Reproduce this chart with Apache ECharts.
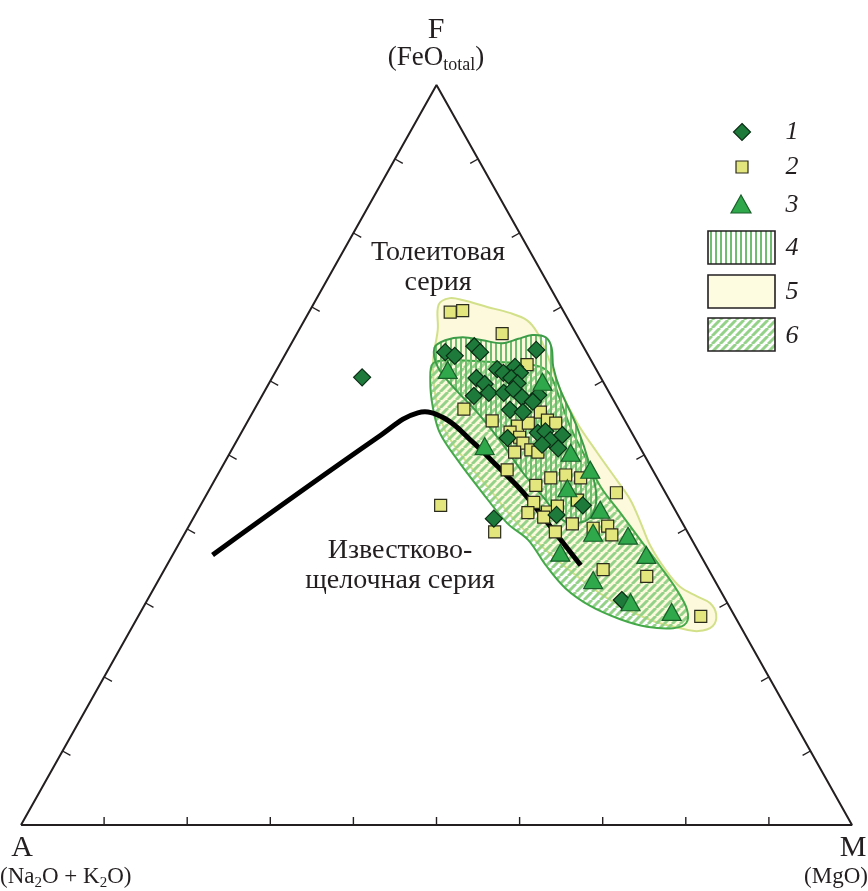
<!DOCTYPE html>
<html>
<head>
<meta charset="utf-8">
<script src="https://cdn.jsdelivr.net/npm/echarts@6/dist/echarts.min.js"></script>
<style>
  html, body { margin: 0; padding: 0; background: #ffffff; }
  #chart { width: 868px; height: 891px; }
</style>
</head>
<body>
<div id="chart"></div>
<script>
// AFM diagram. Every composition is [A, F, M] in %:
// A = Na2O + K2O, F = FeO total, M = MgO.

// 1 — diamonds
const group1 = [
  [28.7, 60.5, 10.8], [17.0, 63.9, 19.1], [16.1, 63.4, 20.5], [13.1, 64.7, 22.2],
  [12.8, 63.9, 23.3], [5.9, 64.2, 29.9], [11.9, 61.6, 26.5], [11.4, 61.1, 27.5],
  [9.6, 61.9, 28.5], [9.4, 61.1, 29.5], [10.8, 60.4, 28.8], [10.4, 59.7, 29.9],
  [15.0, 60.4, 24.6], [14.4, 59.6, 26.0], [16.5, 58.0, 25.5], [14.5, 58.4, 27.1],
  [12.7, 58.4, 28.9], [11.3, 58.9, 29.8], [10.8, 57.8, 31.4], [8.7, 58.1, 33.2],
  [13.1, 56.1, 30.8], [11.7, 55.8, 32.5], [15.3, 52.3, 32.4], [11.3, 53.0, 35.7],
  [10.3, 53.2, 36.5], [10.3, 52.0, 37.7], [8.5, 52.7, 38.8], [11.6, 51.4, 37.0],
  [9.9, 50.9, 39.2], [10.8, 43.2, 46.0], [14.6, 41.9, 43.5], [22.4, 41.4, 36.2],
  [12.5, 30.4, 57.1], [9.8, 57.2, 33.0]
];

// 2 — squares
const group2 = [
  [13.7, 69.3, 17.0], [12.1, 69.5, 18.4], [8.9, 66.4, 24.7], [8.0, 62.2, 29.8],
  [18.6, 56.2, 25.2], [16.0, 54.6, 29.4], [13.3, 53.9, 32.8], [11.8, 54.3, 33.9],
  [9.6, 55.8, 34.6], [9.3, 54.7, 36.0], [8.5, 54.3, 37.2], [14.6, 53.1, 32.3],
  [13.8, 52.4, 33.8], [13.8, 51.6, 34.6], [15.4, 50.4, 34.2], [13.3, 50.7, 36.0],
  [12.6, 50.4, 37.0], [17.5, 48.0, 34.5], [15.1, 45.9, 39.0], [12.8, 46.9, 40.3],
  [10.8, 47.3, 41.9], [9.2, 46.9, 43.9], [5.9, 44.9, 49.2], [16.5, 43.6, 39.9],
  [17.9, 42.2, 39.9], [15.5, 42.3, 42.2], [13.9, 43.1, 43.0], [11.1, 43.9, 45.0],
  [13.3, 40.7, 46.0], [15.9, 39.6, 44.5], [11.1, 40.1, 48.8], [9.2, 40.4, 50.4],
  [9.3, 39.2, 51.5], [23.2, 39.6, 37.2], [27.9, 43.2, 28.9], [12.7, 34.5, 52.8],
  [7.9, 33.6, 58.5], [4.1, 28.2, 67.7], [16.3, 41.6, 42.1]
];

// 3 — triangles
const group3 = [
  [17.9, 61.5, 20.6], [7.3, 59.9, 32.8], [18.6, 51.2, 30.2], [8.7, 50.3, 41.0],
  [7.5, 48.0, 44.5], [11.5, 45.5, 43.0], [9.0, 42.6, 48.4], [11.4, 39.5, 49.1],
  [7.4, 39.1, 53.5], [16.7, 36.8, 46.5], [6.5, 36.5, 57.0], [14.6, 33.1, 52.3],
  [11.6, 30.1, 58.3], [7.3, 28.8, 63.9]
];

// Tholeiitic / calc-alkaline dividing line
const seriesBoundary = [
  [58.7, 36.5, 4.8], [30.5, 52.6, 16.9], [24.4, 55.7, 19.9], [21.6, 55.0, 23.4],
  [19.7, 51.6, 28.7], [18.4, 48.4, 33.2], [17.1, 44.9, 38.0], [15.7, 38.1, 46.2],
  [15.1, 35.1, 49.8]
];

// 4 — field, vertical hatch
const field4 = [
  [18.0, 64.5, 17.5], [16.2, 65.5, 18.3], [13.9, 65.9, 20.2], [11.7, 65.5, 22.8],
  [9.5, 65.1, 25.4], [7.3, 65.7, 27.0], [5.4, 66.2, 28.4], [3.9, 65.9, 30.2],
  [3.9, 64.5, 31.6], [5.0, 61.9, 33.1], [5.7, 58.8, 35.5], [6.2, 53.8, 40.0],
  [7.3, 48.4, 44.3], [8.6, 44.3, 47.1], [10.7, 41.6, 47.7], [12.7, 40.8, 46.5],
  [14.2, 41.2, 44.6], [15.0, 44.3, 40.7], [15.8, 47.6, 36.6], [16.4, 52.0, 31.6],
  [17.2, 55.7, 27.1], [18.4, 59.2, 22.4], [18.9, 61.9, 19.2]
];

// 5 — field, plain fill
const field5 = [
  [16.4, 66.9, 16.7], [14.6, 70.3, 15.1], [12.8, 71.2, 16.0], [11.3, 70.9, 17.8],
  [8.9, 70.0, 21.1], [6.6, 69.2, 24.2], [5.0, 68.2, 26.8], [4.6, 66.6, 28.8],
  [4.8, 64.2, 31.0], [5.7, 58.8, 35.5], [5.9, 54.3, 39.8], [5.5, 50.3, 44.2],
  [5.0, 46.6, 48.4], [4.7, 43.9, 51.4], [5.0, 40.9, 54.1], [5.4, 37.8, 56.8],
  [5.2, 34.5, 60.3], [4.6, 32.2, 63.2], [3.2, 30.9, 65.9], [2.1, 30.0, 67.9],
  [2.1, 28.5, 69.4], [3.3, 26.9, 69.8], [5.4, 26.2, 68.4], [7.4, 26.6, 66.0],
  [10.4, 27.7, 61.9], [13.9, 30.4, 55.7], [16.4, 33.8, 49.8], [18.3, 37.2, 44.5],
  [20.0, 41.2, 38.8], [20.9, 45.3, 33.8], [21.9, 49.3, 28.8], [22.3, 53.4, 24.3],
  [21.1, 58.1, 20.8], [19.0, 62.8, 18.2]
];

// 6 — field, diagonal hatch
const field6 = [
  [20.7, 60.1, 19.2], [19.2, 62.4, 18.4], [16.6, 62.8, 20.6], [12.6, 62.6, 24.8],
  [8.8, 62.4, 28.8], [6.5, 61.9, 31.6], [5.9, 60.8, 33.3], [6.4, 57.4, 36.2],
  [7.0, 53.8, 39.2], [7.2, 50.3, 42.5], [7.4, 45.7, 46.9], [6.8, 42.2, 51.0],
  [6.2, 38.5, 55.3], [5.6, 34.9, 59.5], [5.2, 31.8, 63.0], [5.3, 29.1, 65.6],
  [6.3, 27.3, 66.4], [8.2, 26.6, 65.2], [11.3, 26.8, 61.9], [14.0, 27.8, 58.2],
  [16.7, 29.6, 53.7], [18.5, 32.0, 49.5], [19.3, 35.1, 45.6], [19.7, 38.5, 41.8],
  [21.1, 40.8, 38.1], [22.1, 45.3, 32.6], [22.8, 49.3, 27.9], [23.1, 53.0, 23.9],
  [22.2, 56.5, 21.3]
];

const tickValues = [10, 20, 30, 40, 50, 60, 70, 80, 90];
const legendLabels = ['1', '2', '3', '4', '5', '6'];

const SERIF = "'Liberation Serif', 'Times New Roman', 'DejaVu Serif', serif";
const INK = '#231f20';

// ternary [A, F, M] -> plane coordinates (x along A–M, y towards F)
function toXY(p) {
  const s = p[0] + p[1] + p[2];
  const f = p[1] / s * 100, m = p[2] / s * 100;
  return [m + f / 2, f];
}

// hatch fills
function diagonalHatch() {
  const s = 8, c = document.createElement('canvas');
  c.width = s; c.height = s;
  const g = c.getContext('2d');
  g.strokeStyle = '#93d288';
  g.lineWidth = 3;
  g.beginPath();
  for (let k = -1; k <= 1; k++) { g.moveTo(k * s, s); g.lineTo(k * s + s, 0); }
  g.stroke();
  return { image: c, repeat: 'repeat' };
}
function verticalHatch() {
  const c = document.createElement('canvas');
  c.width = 5; c.height = 5;
  const g = c.getContext('2d');
  g.fillStyle = '#6fbd6e';
  g.fillRect(0, 0, 2, 5);
  return { image: c, repeat: 'repeat' };
}
const hatch6 = diagonalHatch();
const hatch4 = verticalHatch();

function fieldSeries(name, points, fill, stroke, z) {
  const xy = points.map(toXY);
  return {
    name, type: 'custom', coordinateSystem: 'cartesian2d', data: xy, z, silent: true,
    renderItem(params, api) {
      if (params.dataIndex !== 0) return null;
      return {
        type: 'polygon',
        shape: { points: xy.map(p => api.coord(p)), smooth: 0.35 },
        style: { fill, stroke, lineWidth: 2 }
      };
    }
  };
}

// inward-pointing tick from a point on an edge
function tickLine(p, e0, e1, c, len) {
  const dx = e1[0] - e0[0], dy = e1[1] - e0[1];
  const L = Math.hypot(dx, dy);
  let nx = -dy / L, ny = dx / L;
  if ((c[0] - p[0]) * nx + (c[1] - p[1]) * ny < 0) { nx = -nx; ny = -ny; }
  return {
    type: 'line',
    shape: { x1: p[0], y1: p[1], x2: p[0] + nx * len, y2: p[1] + ny * len },
    style: { stroke: INK, lineWidth: 1.4 }
  };
}

const chart = echarts.init(document.getElementById('chart'), null, { renderer: 'canvas' });

const legendItems = [
  { type: 'polygon', shape: { points: [[742, 123.5], [750.5, 132], [742, 140.5], [733.5, 132]] },
    style: { fill: '#1d7a3a', stroke: '#0b2d15', lineWidth: 1.2 } },
  { type: 'rect', shape: { x: 736, y: 161, width: 12, height: 12 },
    style: { fill: '#e3e67c', stroke: '#2b2b1c', lineWidth: 1.2 } },
  { type: 'polygon', shape: { points: [[741, 195], [751, 213], [731, 213]] },
    style: { fill: '#2ea84a', stroke: '#1a5f2a', lineWidth: 1.2 } },
  { type: 'rect', shape: { x: 708, y: 231, width: 67, height: 33 },
    style: { fill: hatch4, stroke: INK, lineWidth: 1.6 } },
  { type: 'rect', shape: { x: 708, y: 275, width: 67, height: 33 },
    style: { fill: '#fdfbe0', stroke: INK, lineWidth: 1.6 } },
  { type: 'rect', shape: { x: 708, y: 318, width: 67, height: 33 },
    style: { fill: hatch6, stroke: INK, lineWidth: 1.6 } }
];
const legendY = [132, 167, 205, 248, 292, 336];
legendLabels.forEach((t, i) => {
  legendItems.push({
    type: 'text', x: 792, y: legendY[i],
    style: { text: t, font: 'italic 26px ' + SERIF, fill: INK,
             align: 'center', verticalAlign: 'middle', textAlign: 'center', textVerticalAlign: 'middle' }
  });
});

function label(x, y, text, size, align, extra) {
  return {
    type: 'text', x, y,
    style: Object.assign({
      text, fontFamily: SERIF, fontSize: size, fill: INK,
      align, verticalAlign: 'middle', textAlign: align, textVerticalAlign: 'middle'
    }, extra || {})
  };
}
const subRich = size => ({ sub: { fontFamily: SERIF, fontSize: size, fill: INK, lineHeight: 14, verticalAlign: 'bottom' } });

const boundaryXY = seriesBoundary.map(toXY);

const option = {
  animation: false,
  backgroundColor: '#ffffff',
  grid: { left: 21, top: 85, width: 831, height: 740, containLabel: false },
  xAxis: { type: 'value', min: 0, max: 100, show: false },
  yAxis: { type: 'value', min: 0, max: 100, show: false },
  series: [
    fieldSeries('5', field5, '#fcf9dc', '#d3e08a', 1),
    fieldSeries('6', field6, hatch6, '#45a94a', 2),
    fieldSeries('4', field4, hatch4, '#3d9c48', 3),
    {
      name: 'frame', type: 'line', silent: true, z: 4,
      data: [[0, 0], [50, 100], [100, 0], [0, 0]],
      symbol: 'none', lineStyle: { color: INK, width: 2 }
    },
    {
      name: 'ticks', type: 'custom', coordinateSystem: 'cartesian2d', silent: true, z: 4,
      data: tickValues.map(t => [t, 0]),
      renderItem(params, api) {
        const t = tickValues[params.dataIndex];
        const A = api.coord([0, 0]), M = api.coord([100, 0]), F = api.coord([50, 100]);
        const C = [(A[0] + M[0] + F[0]) / 3, (A[1] + M[1] + F[1]) / 3];
        return {
          type: 'group',
          children: [
            tickLine(api.coord(toXY([100 - t, 0, t])), A, M, C, 8),
            tickLine(api.coord(toXY([100 - t, t, 0])), A, F, C, 9),
            tickLine(api.coord(toXY([0, t, 100 - t])), M, F, C, 9)
          ]
        };
      }
    },
    {
      name: 'boundary', type: 'custom', coordinateSystem: 'cartesian2d', silent: true, z: 5,
      data: boundaryXY,
      renderItem(params, api) {
        if (params.dataIndex !== 0) return null;
        return {
          type: 'polyline',
          shape: { points: boundaryXY.map(p => api.coord(p)), smooth: 0.4 },
          style: { stroke: '#000000', lineWidth: 5, fill: null, lineCap: 'butt', lineJoin: 'round' }
        };
      }
    },
    {
      name: '2', type: 'scatter', z: 6, data: group2.map(toXY),
      symbol: 'rect', symbolSize: 12,
      itemStyle: { color: '#e3e67c', borderColor: '#2b2b1c', borderWidth: 1.2, opacity: 1 }
    },
    {
      name: '1', type: 'scatter', z: 7, data: group1.map(toXY),
      symbol: 'diamond', symbolSize: [17, 17],
      itemStyle: { color: '#1d7a3a', borderColor: '#0b2d15', borderWidth: 1.2, opacity: 1 }
    },
    {
      name: '3', type: 'scatter', z: 8, data: group3.map(toXY),
      symbol: 'triangle', symbolSize: [19, 17],
      itemStyle: { color: '#2ea84a', borderColor: '#1a5f2a', borderWidth: 1.2, opacity: 1 }
    }
  ],
  graphic: [
    label(436, 30, 'F', 30, 'center'),
    label(436, 58, '(FeO{sub|total})', 27, 'center', { lineHeight: 32, rich: subRich(18) }),
    label(22, 848, 'A', 30, 'center'),
    label(0, 877, '(Na{sub|2}O + K{sub|2}O)', 23, 'left', { lineHeight: 28, rich: subRich(15) }),
    label(853, 848, 'M', 30, 'center'),
    label(868, 877, '(MgO)', 23, 'right'),
    label(438, 268, 'Толеитовая\nсерия', 28, 'center', { lineHeight: 30 }),
    label(400, 566, 'Известково-\nщелочная серия', 28, 'center', { lineHeight: 30 })
  ].concat(legendItems)
};

chart.setOption(option);
</script>
</body>
</html>
